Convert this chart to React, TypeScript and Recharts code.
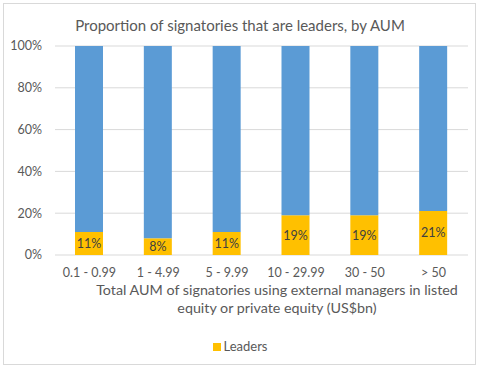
import React from "react";
import { BarChart, Bar, XAxis, YAxis, CartesianGrid, LabelList } from "recharts";

const categories = ["0.1 - 0.99", "1 - 4.99", "5 - 9.99", "10 - 29.99", "30 - 50", "> 50"];
const leaders = [11, 8, 11, 19, 19, 21];
const others = leaders.map((v) => 100 - v);
const yTicks = [0, 20, 40, 60, 80, 100];

const data = categories.map((c, i) => ({ cat: c, leaders: leaders[i], others: others[i] }));

const FONT = "Lato, 'Open Sans', sans-serif";
const GRAY = "#595959";

export default function App() {
  return (
    <div style={{ position: "absolute", left: 0, top: 0, width: 480, height: 370, background: "#fff", fontFamily: FONT }}>
      <div style={{ position: "absolute", left: 3, top: 3, width: 471, height: 360, border: "1px solid #d9d9d9" }} />
      <div style={{ position: "absolute", left: 0, top: 16, width: 480, textAlign: "center", fontSize: 15, color: GRAY }}>
        Proportion of signatories that are leaders, by AUM
      </div>
      <div style={{ position: "absolute", top: 0, left: 0 }}>
        <BarChart width={480} height={370} data={data} margin={{ top: 46, right: 12, left: 0, bottom: 85 }}>
          <CartesianGrid vertical={false} stroke="#d9d9d9" />
          <XAxis
            dataKey="cat"
            axisLine={false}
            tickLine={false}
            tickSize={11}
            height={30}
            tick={{ fill: GRAY, fontSize: 12.5, fontFamily: FONT }}
            interval={0}
          />
          <YAxis
            domain={[0, 100]}
            ticks={yTicks}
            width={55}
            axisLine={false}
            tickLine={false}
            tickSize={11}
            tickFormatter={(v: number) => `${v}%`}
            tick={{ fill: GRAY, fontSize: 12.5, fontFamily: FONT }}
          />
          <Bar dataKey="leaders" stackId="a" fill="#FFC000" barSize={28} isAnimationActive={false}>
            <LabelList dataKey="leaders" position="center" formatter={(v: any) => `${v}%`} fill="#404040" fontSize={12.5} fontFamily={FONT} />
          </Bar>
          <Bar dataKey="others" stackId="a" fill="#5B9BD5" barSize={28} isAnimationActive={false} />
        </BarChart>
      </div>
      <div style={{ position: "absolute", left: 0, top: 281, width: 554, textAlign: "center", fontSize: 14.3, lineHeight: "18px", color: GRAY }}>
        Total AUM of signatories using external managers in listed
        <br />
        equity or private equity (US$bn)
      </div>
      <div style={{ position: "absolute", left: 0, top: 338, width: 480, textAlign: "center", fontSize: 13, color: GRAY }}>
        <span style={{ display: "inline-block", width: 8, height: 8, background: "#FFC000", marginRight: 3, verticalAlign: "middle", position: "relative", top: -1 }} />
        Leaders
      </div>
    </div>
  );
}
